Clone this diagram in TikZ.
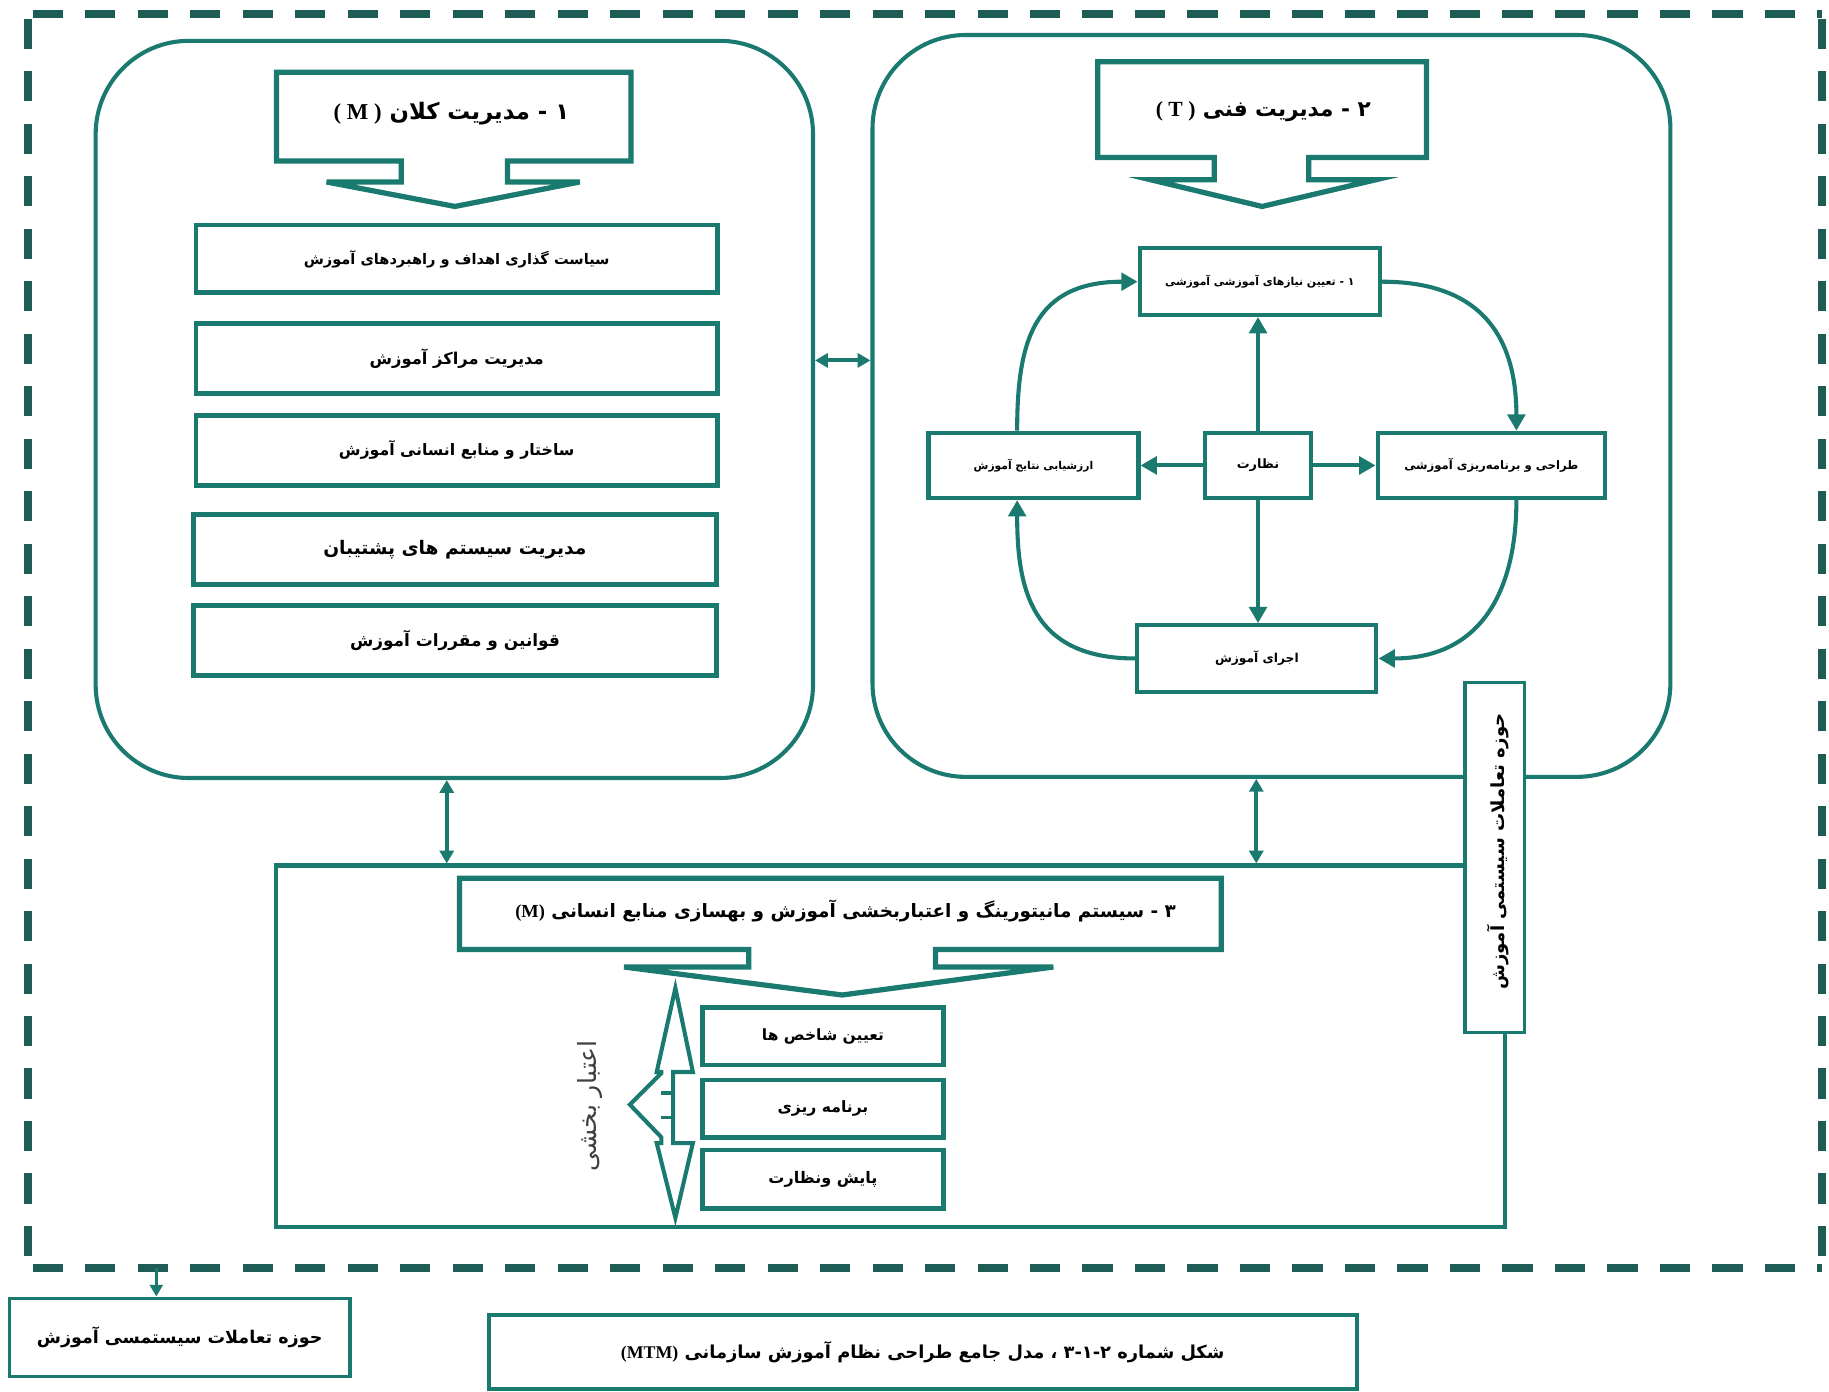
\documentclass[tikz,border=0pt]{standalone}
\usepackage{fontspec}
\usetikzlibrary{arrows.meta,calc}
\TeXXeTstate=1
\newfontfamily\fa[Script=Arabic]{DejaVu Sans}
\newfontfamily\lat{Liberation Serif}
\definecolor{tl}{RGB}{26,122,112}
\definecolor{dk}{RGB}{30,92,86}
\newcommand{\fz}[1]{\fontsize{#1}{#1}\fa\bfseries}
\newcommand{\fzl}[1]{\fontsize{#1}{#1}\fa}
\newcommand{\lt}[1]{\beginL{\lat\bfseries #1}\endL}
\tikzset{
  frame/.style={draw=dk,line width=7pt,dash pattern=on 26pt off 19pt,dash phase=41pt},
  rbox/.style={draw=tl,line width=3.5pt,rounded corners=80pt,inner sep=0pt},
  sbox/.style={draw=tl,line width=4pt,fill=white,inner sep=0pt},
  cbox/.style={draw=tl,line width=3.5pt,fill=white,inner sep=0pt},
  callout/.style={draw=tl,line width=4.5pt,fill=white,line join=miter},
  tarr/.style={draw=tl,line width=3.5pt,-{Triangle[length=14pt,width=15pt]}},
  dbl/.style={draw=tl,line width=3.5pt,{Triangle[length=11pt,width=12pt]}-{Triangle[length=11pt,width=12pt]}},
  txt/.style={inner sep=0pt,text=black}
}
\begin{document}
\begin{tikzpicture}[x=1pt,y=-1pt]
\useasboundingbox (0,0) rectangle (1568,1193);
% dashed frame
\coordinate (ftl) at (24,12);
\coordinate (ftr) at (1562,12);
\coordinate (fbl) at (24,1087);
\coordinate (fbr) at (1562,1087);
\draw[frame] (ftl) -- (ftr);
\draw[frame] (ftl) -- (fbl);
\draw[frame] (fbl) -- (fbr);
\draw[frame] (ftr) -- (fbr);

% rounded containers
\node[rbox,minimum width=615pt,minimum height=632pt] (L) at (389.5,351) {};
\node[rbox,minimum width=684pt,minimum height=636pt] (R) at (1090,348) {};

% left callout
\draw[callout] (237,62) -- (541,62) -- (541,138) -- (435,138) -- (435,156) -- (497,156) -- (390,177) -- (280,156) -- (344,156) -- (344,138) -- (237,138) -- cycle;
\node[txt] (h1) at (387,97) {\fz{19.5}\beginR ۱ - مدیریت کلان \lt{( M )}\endR};

% left stack
\node[sbox,minimum width=447pt,minimum height=58pt] (b1) at (391.5,222) {\fz{12.5}\beginR سیاست گذاری اهداف و راهبردهای آموزش\endR};
\node[sbox,minimum width=447pt,minimum height=60pt] (b2) at (391.5,307.5) {\fz{14}\beginR مدیریت مراکز آموزش\endR};
\node[sbox,minimum width=447pt,minimum height=60pt] (b3) at (391.5,386) {\fz{13.5}\beginR ساختار و منابع انسانی آموزش\endR};
\node[sbox,minimum width=448pt,minimum height=60pt] (b4) at (390,471) {\fz{16}\beginR مدیریت سیستم های پشتیبان\endR};
\node[sbox,minimum width=448pt,minimum height=60pt] (b5) at (390,549) {\fz{14.5}\beginR قوانین و مقررات آموزش\endR};

% right callout
\draw[callout] (941,53) -- (1223,53) -- (1223,135) -- (1122,135) -- (1122,154) -- (1180,154) -- (1082,177) -- (986,154) -- (1041,154) -- (1041,135) -- (941,135) -- cycle;
\node[txt] (h2) at (1083,96) {\fz{18.5}\beginR ۲ - مدیریت فنی \lt{( T )}\endR};

% cycle
\node[cbox,minimum width=206pt,minimum height=57pt] (T1) at (1080,241.5) {\fz{9.3}\beginR ۱ - تعیین نیازهای آموزشی آموزشی\endR};
\node[cbox,minimum width=180pt,minimum height=56pt] (CL) at (886,399) {\fz{9.2}\beginR ارزشیابی نتایج آموزش\endR};
\node[cbox,minimum width=91pt,minimum height=56pt] (CC) at (1078.5,399) {\fz{11}\beginR نظارت\endR};
\node[cbox,minimum width=195pt,minimum height=56pt] (CR) at (1278.5,399) {\fz{10}\beginR طراحی و برنامه‌ریزی آموزشی\endR};
\node[cbox,minimum width=205pt,minimum height=57pt] (CB) at (1077.5,564.5) {\fz{10.5}\beginR اجرای آموزش\endR};

\draw[tarr] (CC.north) -- (CC.north |- T1.south);
\draw[tarr] (CC.south) -- (CC.south |- CB.north);
\draw[tarr] (CC.west) -- (CL.east);
\draw[tarr] (CC.east) -- (CR.west);
\draw[tarr] (T1.east) .. controls +(90,0) and +(0,-75) .. ([xshift=21.5pt]CR.north);
\draw[tarr] ([xshift=21.5pt]CR.south) .. controls +(0,75) and +(90,0) .. (CB.east);
\draw[tarr] (CB.west) .. controls +(-90,0) and +(0,75) .. ([xshift=-14pt]CL.south);
\draw[tarr] ([xshift=-14pt]CL.north) .. controls +(0,-75) and +(-90,0) .. (T1.west);

% bottom container
\node[cbox,fill=none,minimum width=1053pt,minimum height=310pt] (BB) at (763.5,897) {};
\coordinate (y309) at (0,309);
\draw[dbl] (L.east |- y309) -- (R.west |- y309);
\draw[dbl] ([xshift=-6.5pt]L.south) -- ([xshift=-6.5pt]L.south |- BB.north);
\draw[dbl] ([xshift=-13pt]R.south) -- ([xshift=-13pt]R.south |- BB.north);

% vertical side box
\node[cbox,line width=3pt,minimum width=51pt,minimum height=300pt] (V) at (1281.5,735) {};
\node[txt,rotate=90] (Vt) at (1284,730) {\fz{15.5}\beginR حوزه تعاملات سیستمی آموزش\endR};

% bottom callout
\draw[callout] (394,753) -- (1047,753) -- (1047,814) -- (802,814) -- (802,829) -- (903,829) -- (722,853) -- (535,829) -- (642,829) -- (642,814) -- (394,814) -- cycle;
\node[txt] (h3) at (725,781) {\fz{15.8}\beginR ۳ - سیستم مانیتورینگ و اعتباربخشی آموزش و بهسازی منابع انسانی \lt{(M)}\endR};

% bottom stack
\node[sbox,minimum width=207pt,minimum height=49pt] (A) at (705.5,888.5) {\fz{13.3}\beginR تعیین شاخص ها\endR};
\node[sbox,minimum width=207pt,minimum height=49pt] (B) at (705.5,950.5) {\fz{13.4}\beginR برنامه ریزی\endR};
\node[sbox,minimum width=207pt,minimum height=50pt] (C) at (705.5,1011) {\fz{13.7}\beginR پایش ونظارت\endR};

% block double arrow
\draw[draw=tl,line width=3.5pt,fill=white,line join=miter]
  (579,847) -- (594,919) -- (577,919) -- (577,980) -- (594,980) -- (579,1044) -- (563,980) -- (567,980) -- (567,975) -- (540,947) -- (567,920) -- (567,919) -- (563,919) -- cycle;
\draw[draw=tl,line width=3pt] (567,937) -- (577,937) (567,958) -- (577,958);
\node[txt,rotate=90,text=black!75] (acc) at (506,948) {\fzl{21.5}\beginR اعتبار بخشی\endR};

% bottom-left box
\node[cbox,line width=3pt,minimum width=292pt,minimum height=67pt] (BL) at (154,1146.5) {\fz{15}\beginR حوزه تعاملات سیستمسی آموزش\endR};
\coordinate (fa) at (134,1087);
\draw[draw=tl,line width=3pt,-{Triangle[length=10pt,width=11pt]}] (fa) -- (fa |- BL.north);

% caption
\node[cbox,minimum width=744pt,minimum height=63pt] (cap) at (791,1159) {\fz{15.3}\beginR شکل شماره ۳-۱-۲ ، مدل جامع طراحی نظام آموزش سازمانی \lt{(MTM)}\endR};
\end{tikzpicture}
\end{document}
